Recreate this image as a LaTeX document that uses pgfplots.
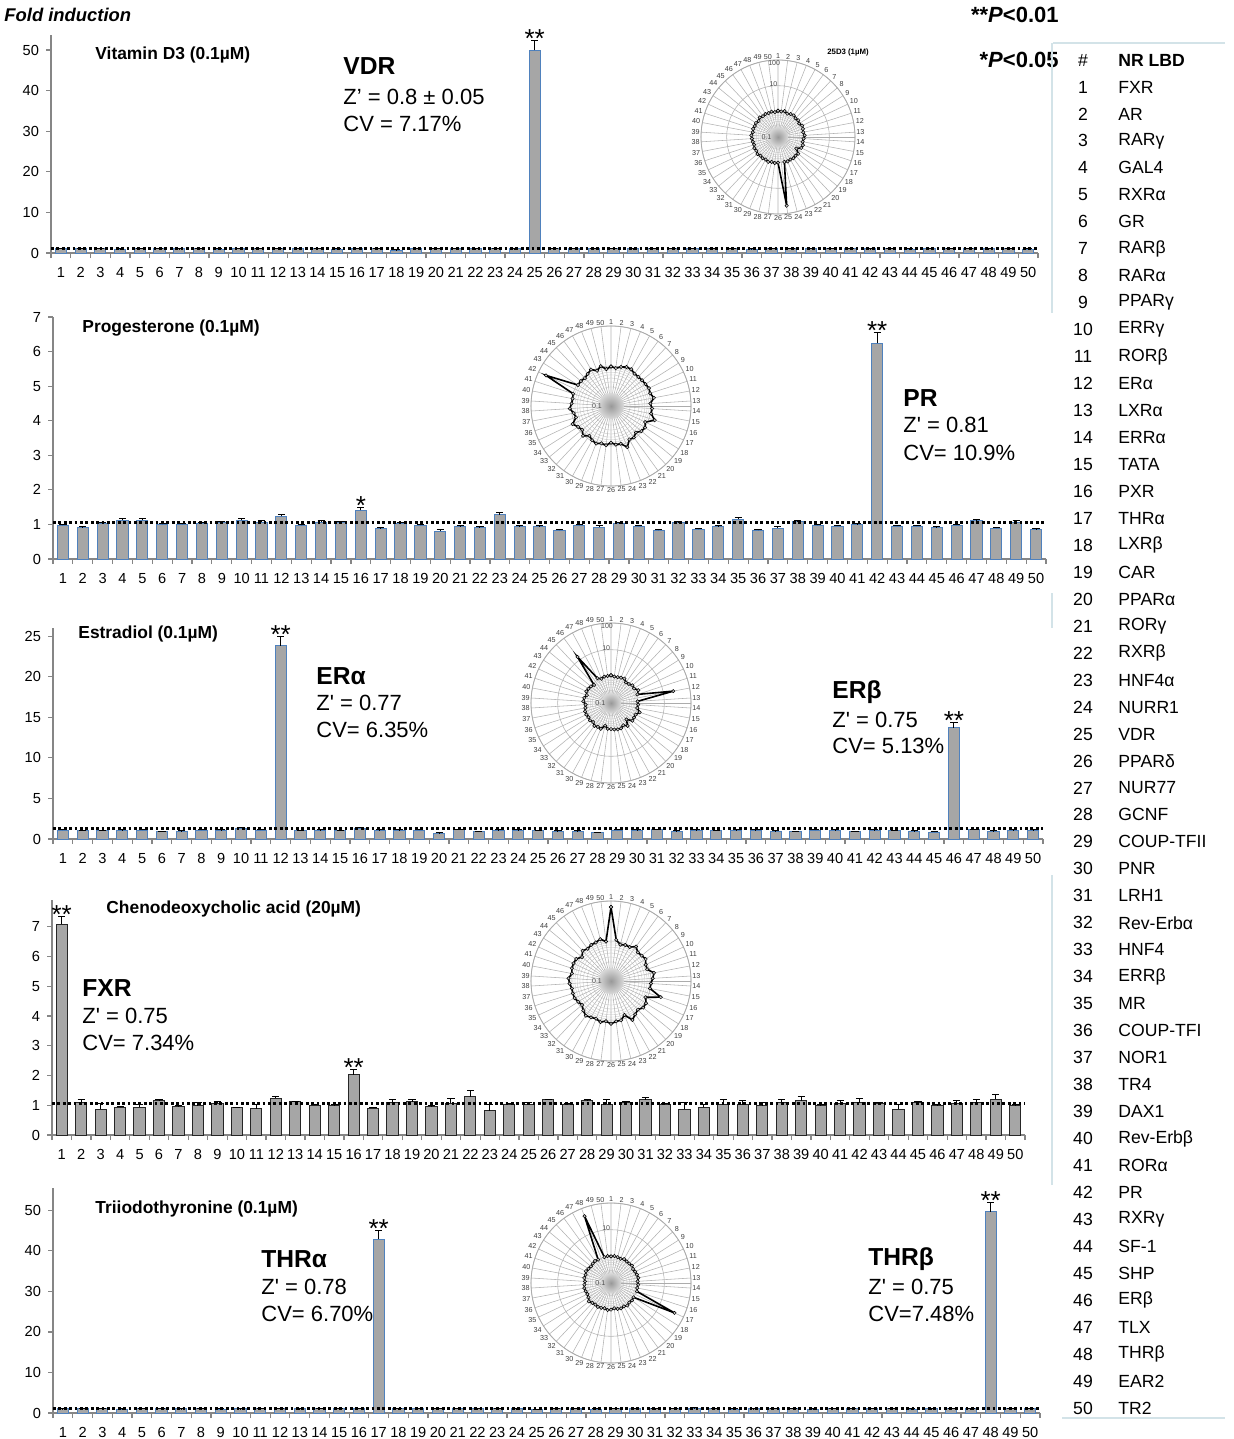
\documentclass[border=0pt]{standalone}
\usepackage{fontspec}
\setmainfont{Liberation Sans}
\usepackage{pgfplots}
\usepackage{pgfplotstable}
\usepgfplotslibrary{polar}
\pgfplotsset{compat=1.18}

\definecolor{barfill}{HTML}{A6A6A6}
\definecolor{baredge}{HTML}{4F81BD}
\definecolor{axgray}{HTML}{868686}
\definecolor{tabline}{HTML}{D3E3E8}

% Vitamin D3
\pgfplotstableread{
x v e
1 1.05 0.08
2 1.00 0.08
3 1.10 0.08
4 0.95 0.08
5 1.05 0.08
6 1.10 0.08
7 1.00 0.08
8 1.05 0.08
9 0.95 0.08
10 1.10 0.08
11 1.05 0.08
12 1.00 0.08
13 1.10 0.08
14 1.00 0.08
15 0.95 0.08
16 1.05 0.08
17 1.00 0.08
18 0.70 0.08
19 1.05 0.08
20 1.00 0.08
21 1.05 0.08
22 1.00 0.08
23 1.05 0.08
24 1.00 0.08
25 50.0 2.30
26 1.00 0.08
27 1.05 0.08
28 1.00 0.08
29 1.10 0.08
30 1.00 0.08
31 1.05 0.08
32 1.00 0.08
33 1.10 0.08
34 1.00 0.08
35 1.05 0.08
36 0.95 0.08
37 1.00 0.08
38 1.05 0.08
39 1.10 0.08
40 1.00 0.08
41 1.05 0.08
42 1.00 0.08
43 1.05 0.08
44 0.95 0.08
45 1.10 0.08
46 1.00 0.08
47 1.05 0.08
48 1.00 0.08
49 1.05 0.08
50 0.95 0.08
51 1.05 0.08
}\tA

% Progesterone
\pgfplotstableread{
x v e
1 0.97 0.04
2 0.90 0.04
3 1.02 0.03
4 1.12 0.04
5 1.12 0.04
6 1.00 0.03
7 1.00 0.03
8 1.02 0.03
9 1.05 0.03
10 1.12 0.04
11 1.07 0.05
12 1.23 0.05
13 0.97 0.03
14 1.07 0.03
15 1.05 0.03
16 1.41 0.07
17 0.88 0.04
18 1.02 0.03
19 0.97 0.03
20 0.81 0.03
21 0.94 0.03
22 0.90 0.04
23 1.28 0.06
24 0.94 0.04
25 0.94 0.03
26 0.83 0.03
27 0.97 0.03
28 0.92 0.04
29 1.02 0.03
30 0.95 0.03
31 0.83 0.03
32 1.05 0.03
33 0.86 0.03
34 0.94 0.03
35 1.15 0.05
36 0.83 0.03
37 0.89 0.04
38 1.08 0.03
39 0.97 0.03
40 0.95 0.03
41 0.99 0.03
42 6.24 0.32
43 0.95 0.03
44 0.95 0.03
45 0.90 0.04
46 0.98 0.03
47 1.10 0.05
48 0.89 0.03
49 1.07 0.04
50 0.85 0.03
51 0.97 0.04
}\tB

% Estradiol
\pgfplotstableread{
x v e
1 1.10 0.08
2 1.00 0.08
3 1.00 0.08
4 1.05 0.08
5 1.10 0.08
6 0.90 0.08
7 0.95 0.08
8 1.10 0.08
9 1.05 0.08
10 1.35 0.08
11 1.10 0.08
12 23.8 1.20
13 1.00 0.08
14 1.05 0.08
15 1.00 0.08
16 1.35 0.08
17 1.05 0.08
18 1.05 0.08
19 1.10 0.08
20 0.70 0.08
21 1.15 0.08
22 0.90 0.08
23 1.05 0.08
24 1.05 0.08
25 1.00 0.08
26 0.95 0.08
27 0.95 0.08
28 0.75 0.08
29 1.10 0.08
30 1.05 0.08
31 1.15 0.08
32 0.95 0.08
33 1.05 0.08
34 1.00 0.08
35 1.05 0.08
36 1.05 0.08
37 0.95 0.08
38 0.90 0.08
39 1.10 0.08
40 1.05 0.08
41 0.90 0.08
42 1.05 0.08
43 1.00 0.08
44 0.95 0.08
45 0.85 0.08
46 13.7 0.60
47 1.15 0.08
48 0.95 0.08
49 1.05 0.08
50 1.05 0.08
51 1.10 0.08
}\tC

% Chenodeoxycholic acid
\pgfplotstableread{
x v e
1 7.08 0.26
2 1.09 0.11
3 0.87 0.20
4 0.93 0.03
5 0.93 0.10
6 1.16 0.03
7 0.96 0.03
8 0.99 0.10
9 1.06 0.07
10 0.91 0.03
11 0.89 0.15
12 1.24 0.04
13 1.11 0.03
14 1.00 0.03
15 0.98 0.03
16 2.03 0.16
17 0.90 0.03
18 1.09 0.11
19 1.11 0.09
20 0.96 0.03
21 1.07 0.17
22 1.29 0.20
23 0.82 0.19
24 1.03 0.04
25 1.04 0.04
26 1.18 0.03
27 1.03 0.03
28 1.15 0.03
29 1.03 0.15
30 1.09 0.05
31 1.18 0.08
32 1.03 0.03
33 0.87 0.22
34 0.93 0.08
35 1.01 0.19
36 1.01 0.15
37 0.99 0.11
38 1.09 0.11
39 1.16 0.15
40 0.99 0.03
41 1.07 0.09
42 1.09 0.13
43 1.07 0.03
44 0.87 0.15
45 1.09 0.04
46 0.99 0.04
47 1.07 0.09
48 1.09 0.11
49 1.20 0.15
50 0.99 0.03
51 7.08 0.26
}\tD

% Triiodothyronine
\pgfplotstableread{
x v e
1 1.00 0.08
2 1.05 0.08
3 1.00 0.08
4 0.95 0.08
5 1.05 0.08
6 1.00 0.08
7 1.00 0.08
8 1.05 0.08
9 0.95 0.08
10 1.00 0.08
11 1.05 0.08
12 1.10 0.08
13 1.00 0.08
14 1.05 0.08
15 1.00 0.08
16 1.05 0.08
17 42.9 2.00
18 1.00 0.08
19 1.05 0.08
20 1.00 0.08
21 1.10 0.08
22 1.00 0.08
23 1.05 0.08
24 1.00 0.08
25 0.90 0.08
26 1.00 0.08
27 1.05 0.08
28 0.95 0.08
29 1.00 0.08
30 1.05 0.08
31 1.00 0.08
32 1.05 0.08
33 1.20 0.08
34 1.00 0.08
35 0.95 0.08
36 1.00 0.08
37 1.05 0.08
38 1.00 0.08
39 0.95 0.08
40 1.05 0.08
41 1.00 0.08
42 1.10 0.08
43 1.00 0.08
44 0.95 0.08
45 1.00 0.08
46 1.05 0.08
47 1.00 0.08
48 49.6 2.40
49 1.00 0.08
50 1.05 0.08
51 1.00 0.08
}\tE

\newcommand{\fs}[1]{\fontsize{#1}{#1}\selectfont}

\tikzset{
  starlbl/.style={font=\fs{13}, anchor=base, yshift=-3.5pt, inner sep=0pt},
  rlbl/.style={font=\fs{3.5}, text=black!70, inner sep=0pt},
}

\pgfplotsset{
  barpanel/.style={
    scale only axis, anchor=south west,
    xmin=0.5, xmax=50.5, ymin=0,
    axis x line*=bottom, axis y line*=left,
    axis line style={axgray, line width=0.7pt},
    xtick={1,...,50}, major x tick style={draw=none},
    minor xtick={0.5,1.5,...,50.5},
    minor x tick style={axgray, line width=0.6pt},
    y tick style={axgray, line width=0.6pt},
    tick align=outside, major tick length=2.5pt, minor tick length=2.5pt,
    tick label style={font=\fs{7.3}},
    xticklabel style={yshift=-1pt},
    /pgf/number format/assume math mode=true,
    clip=false,
  },
  bars/.style={
    error bars/y dir=plus, error bars/y explicit,
    error bars/error bar style={black, line width=0.5pt},
    error bars/error mark options={rotate=90, mark size=1.8pt, black, line width=0.5pt},
    ybar, bar width=5.6pt, fill=barfill, draw=baredge, line width=0.5pt,
    restrict x to domain=1:50},
  thr/.style={black, line width=1.5pt, dash pattern=on 1.4pt off 1.3pt, forget plot},
  radar/.style={
    scale only axis, anchor=center,
    xmin=0, xmax=360, ymin=0,
    xtick={3.6,10.8,...,357},
    xticklabels={13,12,11,10,9,8,7,6,5,4,3,2,1,50,49,48,47,46,45,44,43,42,41,40,39,38,37,36,35,34,33,32,31,30,29,28,27,26,25,24,23,22,21,20,19,18,17,16,15,14},
    xticklabel style={font=\fs{3.6}, text=black!75, inner sep=0.6pt},
    yticklabels={},
    grid=both,
    major grid style={gray!60, line width=0.28pt},
    minor grid style={gray!50, line width=0.15pt},
    minor ytick={0.301,0.477,0.602,0.699,0.778,0.845,0.903,0.954},
    axis line style={gray!65, line width=0.4pt},
    major tick length=0pt, minor tick length=0pt,
    clip=false,
  },
  poly/.style={black, line width=0.8pt, mark=*, mark size=0.85pt,
    mark options={fill=gray!45, draw=black, line width=0.25pt}},
}

\begin{document}
\begin{tikzpicture}
\useasboundingbox (0,0) rectangle (617pt,-719.5pt);

% ---------- Panel 1: Vitamin D3
\begin{axis}[barpanel, at={(25.5pt,-126.5pt)}, width=493.5pt, height=109pt,
  ymax=53.7, ytick={0,10,...,50}]
\addplot[bars] table[x=x, y=v, y error=e] \tA;
\addplot[thr] coordinates {(0.5,1.2) (50.5,1.2)};
\node[starlbl] at (axis cs:25,52.3) {**};
\end{axis}

% ---------- Panel 2: Progesterone
\begin{axis}[barpanel, at={(26.5pt,-279.5pt)}, width=496.5pt, height=121pt,
  ymax=7, ytick={0,...,7}]
\addplot[bars] table[x=x, y=v, y error=e] \tB;
\addplot[thr] coordinates {(0.5,1.05) (50.5,1.05)};
\node[starlbl] at (axis cs:16,1.48) {*};
\node[starlbl] at (axis cs:42,6.56) {**};
\end{axis}

% ---------- Panel 3: Estradiol
\begin{axis}[barpanel, at={(26.5pt,-419.5pt)}, width=495pt, height=105.5pt,
  ymax=26, ytick={0,5,...,25}]
\addplot[bars] table[x=x, y=v, y error=e] \tC;
\addplot[thr] coordinates {(0.5,1.25) (50.5,1.25)};
\node[starlbl] at (axis cs:12,25.0) {**};
\node[starlbl] at (axis cs:46,14.3) {**};
\end{axis}

% ---------- Panel 4: CDCA
\begin{axis}[barpanel, at={(26pt,-567.5pt)}, width=486.5pt, height=117.5pt,
  ymax=7.9, ytick={0,...,7}]
\addplot[bars, draw=black!85] table[x=x, y=v, y error=e] \tD;
\addplot[thr] coordinates {(0.5,1.05) (50.5,1.05)};
\node[starlbl] at (axis cs:1,7.34) {**};
\node[starlbl] at (axis cs:16,2.19) {**};
\end{axis}

% ---------- Panel 5: T3
\begin{axis}[barpanel, at={(26.5pt,-706.5pt)}, width=493.5pt, height=112.5pt,
  ymax=55.5, ytick={0,10,...,50}]
\addplot[bars] table[x=x, y=v, y error=e] \tE;
\addplot[thr] coordinates {(0.5,1.2) (50.5,1.2)};
\node[starlbl] at (axis cs:17,44.9) {**};
\node[starlbl] at (axis cs:48,52.0) {**};
\end{axis}

% ---------- Radar plots
\begin{polaraxis}[radar, at={(389pt,-68.5pt)}, width=77pt, height=77pt, ymax=3, ytick={1,2,3}]
\shade[inner color=gray!80, outer color=gray!30] (axis cs:0,0) circle (5pt);
\addplot[poly] table[x expr={90-7.2*(\thisrow{x}-1)}, y expr={log10(\thisrow{v})+1}] \tA;
\node[rlbl] at (axis cs:180,0.45) {0.1};
\node[rlbl] at (axis cs:95,2.05) {10};
\node[rlbl] at (axis cs:93,2.9) {100};
\end{polaraxis}

\begin{polaraxis}[radar, at={(305.5pt,-203pt)}, width=80pt, height=80pt, ymax=2, ytick={1,2}]
\shade[inner color=gray!80, outer color=gray!30] (axis cs:0,0) circle (6.5pt);
\addplot[poly] table[x expr={90-7.2*(\thisrow{x}-1)}, y expr={log10(\thisrow{v})+1}] \tB;
\node[rlbl] at (axis cs:180,0.35) {0.1};
\end{polaraxis}

\begin{polaraxis}[radar, at={(305.5pt,-351.5pt)}, width=80pt, height=80pt, ymax=3, ytick={1,2,3}]
\shade[inner color=gray!80, outer color=gray!30] (axis cs:0,0) circle (5pt);
\addplot[poly] table[x expr={90-7.2*(\thisrow{x}-1)}, y expr={log10(\thisrow{v})+1}] \tC;
\node[rlbl] at (axis cs:180,0.4) {0.1};
\node[rlbl] at (axis cs:95,2.05) {10};
\node[rlbl] at (axis cs:93,2.9) {100};
\end{polaraxis}

\begin{polaraxis}[radar, at={(305.5pt,-490.5pt)}, width=80pt, height=80pt, ymax=2, ytick={1,2}]
\shade[inner color=gray!80, outer color=gray!30] (axis cs:0,0) circle (6.5pt);
\addplot[poly] table[x expr={90-7.2*(\thisrow{x}-1)}, y expr={log10(\thisrow{v})+1}] \tD;
\node[rlbl] at (axis cs:180,0.35) {0.1};
\end{polaraxis}

\begin{polaraxis}[radar, at={(305.5pt,-641.5pt)}, width=80pt, height=80pt, ymax=3, ytick={1,2,3}]
\shade[inner color=gray!80, outer color=gray!30] (axis cs:0,0) circle (5pt);
\addplot[poly] table[x expr={90-7.2*(\thisrow{x}-1)}, y expr={log10(\thisrow{v})+1}] \tE;
\node[rlbl] at (axis cs:180,0.4) {0.1};
\node[rlbl] at (axis cs:95,2.05) {10};
\end{polaraxis}

% ---------- Text annotations (pixel coordinates)
\begin{scope}[x=0.5pt, y=-0.5pt]
\node[anchor=west, inner sep=0pt, font=\fs{9.2}\bfseries\itshape] at (4,15) {Fold induction};
\node[anchor=east, inner sep=0pt, font=\fs{11}\bfseries] at (1059,15) {**\textit{P}<0.01};
\node[anchor=east, inner sep=0pt, font=\fs{11}\bfseries] at (1059,60) {*\textit{P}<0.05};
\node[anchor=center, inner sep=0pt, font=\fs{3.9}\bfseries] at (848,52) {25D3 (1µM)};

% panel titles
\node[anchor=west, inner sep=0pt, font=\fs{8.7}\bfseries] at (95,55) {Vitamin D3 (0.1µM)};
\node[anchor=west, inner sep=0pt, font=\fs{8.7}\bfseries] at (82,328) {Progesterone (0.1µM)};
\node[anchor=west, inner sep=0pt, font=\fs{8.7}\bfseries] at (78,634) {Estradiol (0.1µM)};
\node[anchor=west, inner sep=0pt, font=\fs{8.7}\bfseries] at (106,909) {Chenodeoxycholic acid (20µM)};
\node[anchor=west, inner sep=0pt, font=\fs{8.7}\bfseries] at (95,1209) {Triiodothyronine (0.1µM)};

% statistics blocks
\node[anchor=west, inner sep=0pt, font=\fs{12.3}\bfseries] at (343,66) {VDR};
\node[anchor=west, inner sep=0pt, font=\fs{11}] at (343,97) {Z’ = 0.8 ± 0.05};
\node[anchor=west, inner sep=0pt, font=\fs{11}] at (343,124) {CV = 7.17\%};

\node[anchor=west, inner sep=0pt, font=\fs{12.3}\bfseries] at (903,398) {PR};
\node[anchor=west, inner sep=0pt, font=\fs{11}] at (903,425) {Z\textquotesingle{} = 0.81};
\node[anchor=west, inner sep=0pt, font=\fs{11}] at (903,453) {CV= 10.9\%};

\node[anchor=west, inner sep=0pt, font=\fs{12.3}\bfseries] at (316,676) {ERα};
\node[anchor=west, inner sep=0pt, font=\fs{11}] at (316,703) {Z\textquotesingle{} = 0.77};
\node[anchor=west, inner sep=0pt, font=\fs{11}] at (316,730) {CV= 6.35\%};

\node[anchor=west, inner sep=0pt, font=\fs{12.3}\bfseries] at (832,692) {ERβ};
\node[anchor=west, inner sep=0pt, font=\fs{11}] at (832,720) {Z\textquotesingle{} = 0.75};
\node[anchor=west, inner sep=0pt, font=\fs{11}] at (832,746) {CV= 5.13\%};

\node[anchor=west, inner sep=0pt, font=\fs{12.3}\bfseries] at (82,988) {FXR};
\node[anchor=west, inner sep=0pt, font=\fs{11}] at (82,1016) {Z\textquotesingle{} = 0.75};
\node[anchor=west, inner sep=0pt, font=\fs{11}] at (82,1043) {CV= 7.34\%};

\node[anchor=west, inner sep=0pt, font=\fs{12.3}\bfseries] at (261,1259) {THRα};
\node[anchor=west, inner sep=0pt, font=\fs{11}] at (261,1287) {Z\textquotesingle{} = 0.78};
\node[anchor=west, inner sep=0pt, font=\fs{11}] at (261,1314) {CV= 6.70\%};

\node[anchor=west, inner sep=0pt, font=\fs{12.3}\bfseries] at (868,1259) {THRβ};
\node[anchor=west, inner sep=0pt, font=\fs{11}] at (868,1287) {Z\textquotesingle{} = 0.75};
\node[anchor=west, inner sep=0pt, font=\fs{11}] at (868,1314) {CV=7.48\%};

% right-hand table
\draw[tabline, line width=0.8pt] (1053,43) -- (1225,43);
\draw[tabline, line width=0.8pt] (1062,1418) -- (1225,1418);
\draw[tabline, line width=0.8pt] (1052,43) -- (1052,313);
\draw[tabline, line width=0.8pt] (1052,593) -- (1052,628);
\draw[tabline, line width=0.8pt] (1052,875) -- (1052,1185);
\node[anchor=center, inner sep=0pt, font=\fs{8.8}] at (1083,60) {\#};
\node[anchor=west, inner sep=0pt, font=\fs{8.8}\bfseries] at (1118,60) {NR LBD};
\foreach \n [count=\i] in {FXR,AR,RARγ,GAL4,RXRα,GR,RARβ,RARα,PPARγ,ERRγ,RORβ,ERα,LXRα,ERRα,TATA,PXR,THRα,LXRβ,CAR,PPARα,RORγ,RXRβ,HNF4α,NURR1,VDR,PPARδ,NUR77,GCNF,COUP-TFII,PNR,LRH1,Rev-Erbα,HNF4,ERRβ,MR,COUP-TFI,NOR1,TR4,DAX1,Rev-Erbβ,RORα,PR,RXRγ,SF-1,SHP,ERβ,TLX,THRβ,EAR2,TR2}{
  \node[anchor=center, inner sep=0pt, font=\fs{8.8}] at (1083,{87+26.96*(\i-1)}) {\i};
  \node[anchor=west, inner sep=0pt, font=\fs{8.8}] at (1118,{87+26.96*(\i-1)}) {\n};
}
\end{scope}
\end{tikzpicture}
\end{document}
